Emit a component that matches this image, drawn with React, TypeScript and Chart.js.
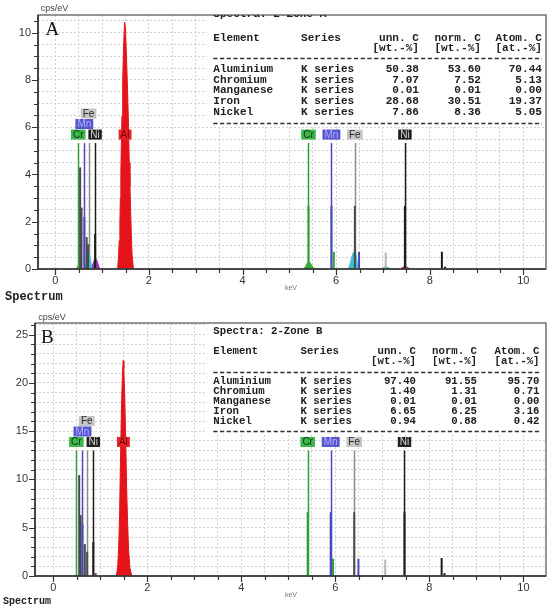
import React, { useEffect, useRef } from 'react';
import { Chart, registerables } from 'chart.js';

Chart.register(...registerables);

const PAGE_W = 554;
const SANS = '"Liberation Sans", Arial, sans-serif';
const MONO = '"Liberation Mono", "DejaVu Sans Mono", monospace';
const SERIF = '"Liberation Serif", "DejaVu Serif", serif';

// Energy axis (keV)
const X_LABELS = [0, 2, 4, 6, 8, 10];
const X_TICK_STEP = 0.5;

// Quantification tables
const TABLE_ELEMENTS = ['Aluminium', 'Chromium', 'Manganese', 'Iron', 'Nickel'];
const TABLE_SERIES = ['K series', 'K series', 'K series', 'K series', 'K series'];
const A_UNN = ['50.38', '7.07', '0.01', '28.68', '7.86'];
const A_NORM = ['53.60', '7.52', '0.01', '30.51', '8.36'];
const A_ATOM = ['70.44', '5.13', '0.00', '19.37', '5.05'];
const B_UNN = ['97.40', '1.40', '0.01', '6.65', '0.94'];
const B_NORM = ['91.55', '1.31', '0.01', '6.25', '0.88'];
const B_ATOM = ['95.70', '0.71', '0.00', '3.16', '0.42'];

// Element line markers (labelled)
const MARKER_ELEMENT = ['Cr', 'Mn', 'Fe', 'Ni', 'Al', 'Cr', 'Mn', 'Fe', 'Ni'];
const MARKER_KEV = [0.49, 0.62, 0.71, 0.85, 1.49, 5.41, 5.9, 6.4, 7.47];
const MARKER_STACK = [0, 1, 2, 0, 0, 0, 0, 0, 0];

// Zone A: y axis
const A_Y_LABELS = [0, 2, 4, 6, 8, 10];
const A_Y_STEP = 0.5;
const A_MARKER_TOP = 5.33;

// Zone A: measured peaks [keV, cps/eV]
const A_AL_PEAK: [number, number][] = [
  [1.33, 0], [1.35, 0.5], [1.365, 1.2], [1.38, 2.0], [1.39, 3.0], [1.4, 4.0], [1.41, 5.2], [1.425, 6.5],
  [1.44, 8.0], [1.455, 9.2], [1.48, 10.45], [1.5, 10.2], [1.52, 9.0], [1.545, 7.5], [1.565, 6.0],
  [1.58, 4.5], [1.595, 3.5], [1.61, 2.4], [1.625, 1.4], [1.64, 0.6], [1.67, 0],
];
const A_CR_L_PEAK: [number, number][] = [[0.45, 0], [0.48, 0.12], [0.5, 0.18], [0.53, 0.1], [0.56, 0]];
const A_FE_L_PEAK: [number, number][] = [[0.64, 0], [0.67, 0.35], [0.7, 0.7], [0.72, 0.74], [0.75, 0.4], [0.78, 0]];
const A_NI_L_PEAK: [number, number][] = [[0.77, 0], [0.81, 0.25], [0.84, 0.42], [0.87, 0.45], [0.9, 0.3], [0.93, 0.1], [0.96, 0]];
const A_CR_K_PEAK: [number, number][] = [[5.29, 0], [5.35, 0.12], [5.39, 0.27], [5.42, 0.31], [5.46, 0.22], [5.5, 0.08], [5.55, 0]];
const A_FE_KA_PEAK: [number, number][] = [
  [6.24, 0], [6.28, 0.1], [6.31, 0.3], [6.34, 0.55], [6.37, 0.7], [6.4, 0.72], [6.42, 0.68], [6.44, 0.4], [6.47, 0],
];
const A_FE_KB_PEAK: [number, number][] = [[6.95, 0], [7.03, 0.07], [7.07, 0.09], [7.11, 0.06], [7.16, 0]];
const A_NI_K_PEAK: [number, number][] = [[7.37, 0], [7.43, 0.08], [7.47, 0.11], [7.52, 0.08], [7.58, 0]];

// Zone A: individual line intensities
const A_LINE_KEV = [0.53, 0.56, 0.62, 0.67, 0.7, 0.85, 5.41, 5.9, 6.4, 7.47, 5.95, 6.49, 7.06, 8.26, 8.33];
const A_LINE_CPS = [4.3, 2.6, 2.2, 1.35, 1.05, 1.48, 2.67, 2.67, 2.67, 2.67, 0.73, 0.73, 0.69, 0.73, 0.1];
const A_LINE_TONE = ['dk', 'dk', 'Mn', 'dk', 'dk', 'Ni', 'Cr', 'Mn', 'dk', 'Ni', 'Cr', 'Mn', 'lt', 'Ni', 'Ni'];

// Zone B: y axis
const B_Y_LABELS = [0, 5, 10, 15, 20, 25];
const B_Y_STEP = 1;
const B_MARKER_TOP = 13.0;

// Zone B: measured peaks [keV, cps/eV]
const B_AL_PEAK: [number, number][] = [
  [1.34, 0], [1.37, 1.0], [1.39, 3.0], [1.41, 6.5], [1.43, 12.5], [1.45, 17.5], [1.47, 21.0], [1.485, 22.3],
  [1.5, 21.5], [1.52, 18.5], [1.54, 14.0], [1.56, 9.0], [1.58, 5.5], [1.6, 2.8], [1.63, 0.8], [1.67, 0],
];

// Zone B: individual line intensities
const B_LINE_KEV = [0.55, 0.58, 0.62, 0.67, 0.72, 0.85, 0.9, 5.41, 5.9, 6.4, 7.47, 5.95, 6.49, 7.06, 8.26, 8.32];
const B_LINE_CPS = [10.45, 6.3, 5.4, 3.3, 2.5, 3.5, 0.3, 6.6, 6.6, 6.6, 6.6, 1.8, 1.8, 1.7, 1.87, 0.3];
const B_LINE_TONE = ['dk', 'dk', 'Mn', 'dk', 'dk', 'Ni', 'dk', 'Cr', 'Mn', 'dk', 'Ni', 'Cr', 'Mn', 'lt', 'Ni', 'Ni'];

const RED = '#e5141b';
const GREEN = '#3cae3c';
const CYAN = '#3dbfd9';
const PURPLE = '#9a35b5';
const MAGENTA = '#c8337e';

const LINE_TONE: Record<string, string> = {
  Al: '#c01010',
  Cr: '#2f9e3a',
  Mn: '#4747c2',
  Fe: '#8c8c8c',
  Ni: '#1c1c1c',
  dk: '#4a4a4a',
  lt: '#b5b5b5',
};

const LABEL_STYLE: Record<string, { bg: string; fg: string }> = {
  Al: { bg: '#e4232a', fg: '#7a0000' },
  Cr: { bg: '#3cb54a', fg: '#0d3311' },
  Mn: { bg: '#5656d0', fg: '#b0b0ff' },
  Fe: { bg: '#c4c4c4', fg: '#2a2a2a' },
  Ni: { bg: '#1f1f1f', fg: '#d8d8d8' },
};

type Peak = { pts: [number, number][]; color: string };

type TableLayout = {
  font: number;
  xName: number; xSeries: number; xUnn: number; xNorm: number; xAtom: number;
  yTitle: number; yHead: number; yUnits: number; yRule1: number;
  yRow0: number; rowGap: number; yRule2: number;
  boxLeft: number; boxBottom: number;
};

type PanelCfg = {
  letter: string;
  title: string;
  top: number;
  height: number;
  area: { left: number; right: number; top: number; bottom: number };
  xMin: number; xMax: number; yMax: number;
  yStep: number; yLabels: number[];
  markerTop: number;
  peaks: Peak[];
  lineKev: number[]; lineCps: number[]; lineTone: string[];
  unn: string[]; norm: string[]; atom: string[];
  table: TableLayout;
  unitX: number; unitY: number;
  spectrumX: number; spectrumY: number; spectrumFont: number;
  kevY: number;
  letterX: number; letterY: number;
};

function steps(from: number, to: number, step: number): number[] {
  const out: number[] = [];
  for (let i = 0; from + i * step <= to + 1e-9; i++) out.push(+(from + i * step).toFixed(3));
  return out;
}

const PANEL_A: PanelCfg = {
  letter: 'A',
  title: 'Spectra: 2-Zone A',
  top: 0,
  height: 305,
  area: { left: 38, right: 546, top: 15, bottom: 269 },
  xMin: -0.37, xMax: 10.485, yMax: 10.75,
  yStep: A_Y_STEP, yLabels: A_Y_LABELS,
  markerTop: A_MARKER_TOP,
  peaks: [
    { pts: A_AL_PEAK, color: RED },
    { pts: A_CR_L_PEAK, color: GREEN },
    { pts: A_FE_L_PEAK, color: CYAN },
    { pts: A_NI_L_PEAK, color: PURPLE },
    { pts: A_CR_K_PEAK, color: GREEN },
    { pts: A_FE_KA_PEAK, color: CYAN },
    { pts: A_FE_KB_PEAK, color: CYAN },
    { pts: A_NI_K_PEAK, color: MAGENTA },
  ],
  lineKev: A_LINE_KEV, lineCps: A_LINE_CPS, lineTone: A_LINE_TONE,
  unn: A_UNN, norm: A_NORM, atom: A_ATOM,
  table: {
    font: 11.1,
    xName: 213.3, xSeries: 301, xUnn: 419, xNorm: 481, xAtom: 542,
    yTitle: 14.5, yHead: 38, yUnits: 48.3, yRule1: 58.3,
    yRow0: 69.3, rowGap: 10.7, yRule2: 122.5,
    boxLeft: 207, boxBottom: 127,
  },
  unitX: 40.7, unitY: 9,
  spectrumX: 5, spectrumY: 297, spectrumFont: 12,
  kevY: 288,
  letterX: 45.5, letterY: 35,
};

const PANEL_B: PanelCfg = {
  letter: 'B',
  title: 'Spectra: 2-Zone B',
  top: 305,
  height: 306,
  area: { left: 35, right: 546, top: 18, bottom: 271 },
  xMin: -0.39, xMax: 10.48, yMax: 26.2,
  yStep: B_Y_STEP, yLabels: B_Y_LABELS,
  markerTop: B_MARKER_TOP,
  peaks: [{ pts: B_AL_PEAK, color: RED }],
  lineKev: B_LINE_KEV, lineCps: B_LINE_CPS, lineTone: B_LINE_TONE,
  unn: B_UNN, norm: B_NORM, atom: B_ATOM,
  table: {
    font: 10.7,
    xName: 213.3, xSeries: 300.5, xUnn: 416, xNorm: 477, xAtom: 539.5,
    yTitle: 26.7, yHead: 46.7, yUnits: 56.7, yRule1: 66.7,
    yRow0: 76.7, rowGap: 10, yRule2: 126,
    boxLeft: 207, boxBottom: 129,
  },
  unitX: 38.3, unitY: 12.3,
  spectrumX: 3, spectrumY: 296.7, spectrumFont: 10,
  kevY: 290,
  letterX: 41, letterY: 37.7,
};

function makeDecor(cfg: PanelCfg, xTicks: number[], yTicks: number[]) {
  return {
    id: 'spectrumDecor',
    beforeDraw(chart: any) {
      const { ctx, width, height } = chart;
      ctx.save();
      ctx.fillStyle = '#ffffff';
      ctx.fillRect(0, 0, width, height);
      ctx.restore();
    },
    beforeDatasetsDraw(chart: any) {
      const { ctx, chartArea: a } = chart;
      const x = chart.scales.x;
      const y = chart.scales.y;
      ctx.save();
      // plain backdrop behind the quantification table
      ctx.fillStyle = '#ffffff';
      ctx.fillRect(cfg.table.boxLeft, a.top, a.right - cfg.table.boxLeft, cfg.table.boxBottom - a.top);
      // element marker lines (under the measured peaks)
      ctx.beginPath();
      ctx.rect(a.left, a.top, a.right - a.left, a.bottom - a.top);
      ctx.clip();
      const base = y.getPixelForValue(0);
      const top = y.getPixelForValue(cfg.markerTop);
      MARKER_KEV.forEach((e, i) => {
        const px = Math.round(x.getPixelForValue(e)) + 0.5;
        ctx.strokeStyle = LINE_TONE[MARKER_ELEMENT[i]];
        ctx.lineWidth = 1.5;
        ctx.beginPath();
        ctx.moveTo(px, base);
        ctx.lineTo(px, top);
        ctx.stroke();
      });
      ctx.restore();
    },
    afterDatasetsDraw(chart: any) {
      const { ctx, chartArea: a } = chart;
      const x = chart.scales.x;
      const y = chart.scales.y;
      const base = y.getPixelForValue(0);
      const markerTopPx = y.getPixelForValue(cfg.markerTop);

      // individual line intensities
      ctx.save();
      ctx.beginPath();
      ctx.rect(a.left, a.top, a.right - a.left, a.bottom - a.top);
      ctx.clip();
      cfg.lineKev.forEach((e, i) => {
        const px = x.getPixelForValue(e);
        ctx.strokeStyle = LINE_TONE[cfg.lineTone[i]];
        ctx.lineWidth = 2;
        ctx.beginPath();
        ctx.moveTo(px, base);
        ctx.lineTo(px, y.getPixelForValue(cfg.lineCps[i]));
        ctx.stroke();
      });
      ctx.restore();

      // frame and axes
      ctx.save();
      ctx.strokeStyle = '#5e5e5e';
      ctx.lineWidth = 1.3;
      ctx.strokeRect(a.left, a.top, a.right - a.left, a.bottom - a.top);
      ctx.strokeStyle = '#333333';
      ctx.lineWidth = 1.6;
      ctx.beginPath();
      ctx.moveTo(a.left, a.top);
      ctx.lineTo(a.left, a.bottom);
      ctx.lineTo(a.right, a.bottom);
      ctx.stroke();

      // tick marks
      ctx.lineWidth = 1.2;
      ctx.beginPath();
      yTicks.forEach((v) => {
        const py = Math.round(y.getPixelForValue(v)) + 0.5;
        const len = cfg.yLabels.includes(v) ? 6 : 4;
        ctx.moveTo(a.left - len, py);
        ctx.lineTo(a.left, py);
      });
      xTicks.forEach((v) => {
        const px = Math.round(x.getPixelForValue(v)) + 0.5;
        const len = X_LABELS.includes(v) ? 6 : 4;
        ctx.moveTo(px, a.bottom);
        ctx.lineTo(px, a.bottom + len);
      });
      ctx.stroke();
      ctx.restore();

      // element labels
      ctx.save();
      ctx.font = `10px ${SANS}`;
      ctx.textAlign = 'center';
      ctx.textBaseline = 'middle';
      MARKER_KEV.forEach((e, i) => {
        const el = MARKER_ELEMENT[i];
        const st = LABEL_STYLE[el];
        const cx = x.getPixelForValue(e);
        const cy = markerTopPx - 8.5 - MARKER_STACK[i] * 10.5;
        const w = ctx.measureText(el).width + 4;
        ctx.fillStyle = st.bg;
        ctx.fillRect(cx - w / 2, cy - 5, w, 10);
        ctx.fillStyle = st.fg;
        ctx.fillText(el, cx, cy + 0.5);
      });
      ctx.restore();

      // quantification table
      const t = cfg.table;
      ctx.save();
      ctx.beginPath();
      ctx.rect(a.left, a.top, a.right - a.left, a.bottom - a.top);
      ctx.clip();
      ctx.fillStyle = '#202020';
      ctx.font = `bold ${t.font}px ${MONO}`;
      ctx.textBaseline = 'middle';
      ctx.textAlign = 'left';
      ctx.fillText(cfg.title, t.xName, t.yTitle);
      ctx.fillText('Element', t.xName, t.yHead);
      ctx.fillText('Series', t.xSeries, t.yHead);
      ctx.textAlign = 'right';
      ctx.fillText('unn. C', t.xUnn, t.yHead);
      ctx.fillText('norm. C', t.xNorm, t.yHead);
      ctx.fillText('Atom. C', t.xAtom, t.yHead);
      ctx.fillText('[wt.-%]', t.xUnn, t.yUnits);
      ctx.fillText('[wt.-%]', t.xNorm, t.yUnits);
      ctx.fillText('[at.-%]', t.xAtom, t.yUnits);
      TABLE_ELEMENTS.forEach((name, i) => {
        const ry = t.yRow0 + i * t.rowGap;
        ctx.textAlign = 'left';
        ctx.fillText(name, t.xName, ry);
        ctx.fillText(TABLE_SERIES[i], t.xSeries, ry);
        ctx.textAlign = 'right';
        ctx.fillText(cfg.unn[i], t.xUnn, ry);
        ctx.fillText(cfg.norm[i], t.xNorm, ry);
        ctx.fillText(cfg.atom[i], t.xAtom, ry);
      });
      ctx.strokeStyle = '#303030';
      ctx.lineWidth = 1.3;
      ctx.setLineDash([4.2, 2.5]);
      [t.yRule1, t.yRule2].forEach((ry) => {
        ctx.beginPath();
        ctx.moveTo(t.xName, Math.round(ry) + 0.5);
        ctx.lineTo(t.xAtom, Math.round(ry) + 0.5);
        ctx.stroke();
      });
      ctx.setLineDash([]);

      // panel letter
      ctx.fillStyle = '#111111';
      ctx.font = `19px ${SERIF}`;
      ctx.textAlign = 'left';
      ctx.textBaseline = 'alphabetic';
      ctx.fillText(cfg.letter, cfg.letterX, cfg.letterY);
      ctx.restore();

      // captions around the plot
      ctx.save();
      ctx.fillStyle = '#444444';
      ctx.font = `9px ${SANS}`;
      ctx.textAlign = 'left';
      ctx.textBaseline = 'middle';
      ctx.fillText('cps/eV', cfg.unitX, cfg.unitY);
      ctx.fillStyle = '#222222';
      ctx.font = `bold ${cfg.spectrumFont}px ${MONO}`;
      ctx.fillText('Spectrum', cfg.spectrumX, cfg.spectrumY);
      ctx.fillStyle = '#777777';
      ctx.font = `7px ${SANS}`;
      ctx.textAlign = 'center';
      ctx.fillText('keV', 291, cfg.kevY);
      ctx.restore();
    },
  };
}

function SpectrumPanel({ cfg }: { cfg: PanelCfg }) {
  const ref = useRef<HTMLCanvasElement | null>(null);

  useEffect(() => {
    const canvas = ref.current;
    if (!canvas) return;
    const xTicks = steps(0, 10, X_TICK_STEP);
    const yTicks = steps(0, Math.floor(cfg.yMax / cfg.yStep) * cfg.yStep, cfg.yStep);
    const datasets = cfg.peaks.map((p) => ({
      data: p.pts.map(([kev, cps]) => ({ x: kev, y: cps })),
      borderColor: p.color,
      backgroundColor: p.color,
      borderWidth: 1,
      pointRadius: 0,
      fill: 'origin',
      tension: 0,
    }));
    const chart = new Chart(canvas, {
      type: 'line',
      data: { datasets } as any,
      options: {
        responsive: false,
        maintainAspectRatio: false,
        animation: false,
        devicePixelRatio: 1,
        events: [],
        layout: {
          padding: { top: cfg.area.top, right: PAGE_W - cfg.area.right, left: 0, bottom: 0 },
        },
        plugins: {
          legend: { display: false },
          tooltip: { enabled: false },
          title: { display: false },
        },
        scales: {
          x: {
            type: 'linear',
            min: cfg.xMin,
            max: cfg.xMax,
            afterBuildTicks: (s: any) => {
              s.ticks = xTicks.map((v) => ({ value: v }));
            },
            afterFit: (s: any) => {
              s.height = cfg.height - cfg.area.bottom;
            },
            grid: { color: '#d2d2d2', lineWidth: 1, drawTicks: false },
            border: { display: false, dash: [2, 2] },
            ticks: {
              autoSkip: false,
              maxRotation: 0,
              padding: 5,
              color: '#333333',
              font: { family: SANS, size: 11 },
              callback: (v: any) => (X_LABELS.includes(+v) ? String(v) : ''),
            },
          },
          y: {
            type: 'linear',
            min: 0,
            max: cfg.yMax,
            afterBuildTicks: (s: any) => {
              s.ticks = yTicks.map((v) => ({ value: v }));
            },
            afterFit: (s: any) => {
              s.width = cfg.area.left;
            },
            grid: { color: '#d2d2d2', lineWidth: 1, drawTicks: false },
            border: { display: false, dash: [2, 2] },
            ticks: {
              autoSkip: false,
              padding: 7,
              color: '#333333',
              font: { family: SANS, size: 11 },
              callback: (v: any) => (cfg.yLabels.includes(+v) ? String(v) : ''),
            },
          },
        },
      } as any,
      plugins: [makeDecor(cfg, xTicks, yTicks)],
    });
    return () => chart.destroy();
  }, [cfg]);

  return (
    <canvas
      ref={ref}
      width={PAGE_W}
      height={cfg.height}
      style={{ position: 'absolute', left: 0, top: cfg.top, width: PAGE_W, height: cfg.height, display: 'block' }}
    />
  );
}

export default function App() {
  return (
    <div style={{ position: 'absolute', left: 0, top: 0, width: PAGE_W, height: 611, background: '#ffffff', overflow: 'hidden' }}>
      <SpectrumPanel cfg={PANEL_A} />
      <SpectrumPanel cfg={PANEL_B} />
    </div>
  );
}
